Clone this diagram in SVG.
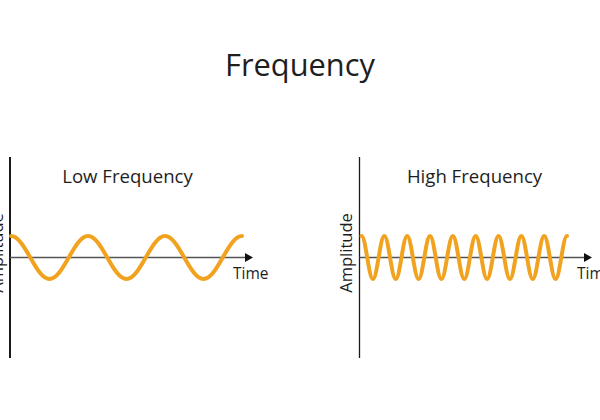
<svg xmlns="http://www.w3.org/2000/svg" width="600" height="420" viewBox="0 0 600 420">
<style>
text{font-family:"Open Sans","Liberation Sans",sans-serif;fill:#1e1e1e}
.t{font-size:30.8px;text-anchor:middle}
.h{font-size:18.6px;text-anchor:middle}
.lab{font-size:15.5px}
.amp{font-size:16.5px;text-anchor:middle}
.yax{stroke:#1a1a1a;fill:none}
.xax{stroke:#555;stroke-width:1.4;fill:none}
.arr{fill:#111}
.wave{stroke:#F1A21E;stroke-width:4;fill:none;stroke-linecap:round;stroke-linejoin:round}
</style>
<rect width="600" height="420" fill="#fff"/>
<text class="t" x="300" y="76">Frequency</text>
<g id="low">
  <line class="yax" x1="10" y1="157" x2="10" y2="358" stroke-width="2"/>
  <line class="xax" x1="10" y1="257.5" x2="247" y2="257.5"/>
  <polygon class="arr" points="253,257.5 245,253 245,262"/>
  <path class="wave" d="M11,236 c14.01,0 24.49,43 38.5,43 s24.49,-43 38.5,-43 s24.49,43 38.5,43 s24.49,-43 38.5,-43 s24.49,43 38.5,43 s24.49,-43 38.5,-43"/>
  <text class="h" x="127.5" y="183">Low Frequency</text>
  <text class="lab" x="233" y="279">Time</text>
  <text class="amp" transform="translate(3,253) rotate(-90)">Amplitude</text>
</g>
<g id="high">
  <line class="yax" x1="359.5" y1="157" x2="359.5" y2="358" stroke-width="1.3"/>
  <line class="xax" x1="359.5" y1="257.5" x2="586" y2="257.5"/>
  <polygon class="arr" points="592,257.5 584,253 584,262"/>
  <path class="wave" d="M361.5,236 c4.156,0 7.261,43 11.417,43 s7.261,-43 11.417,-43 s7.261,43 11.417,43 s7.261,-43 11.417,-43 s7.261,43 11.417,43 s7.261,-43 11.417,-43 s7.261,43 11.417,43 s7.261,-43 11.417,-43 s7.261,43 11.417,43 s7.261,-43 11.417,-43 s7.261,43 11.417,43 s7.261,-43 11.417,-43 s7.261,43 11.417,43 s7.261,-43 11.417,-43 s7.261,43 11.417,43 s7.261,-43 11.417,-43 s7.261,43 11.417,43 s7.261,-43 11.417,-43"/>
  <text class="h" x="474.5" y="183">High Frequency</text>
  <text class="lab" x="577" y="279">Time</text>
  <text class="amp" transform="translate(352,253) rotate(-90)">Amplitude</text>
</g>
</svg>
